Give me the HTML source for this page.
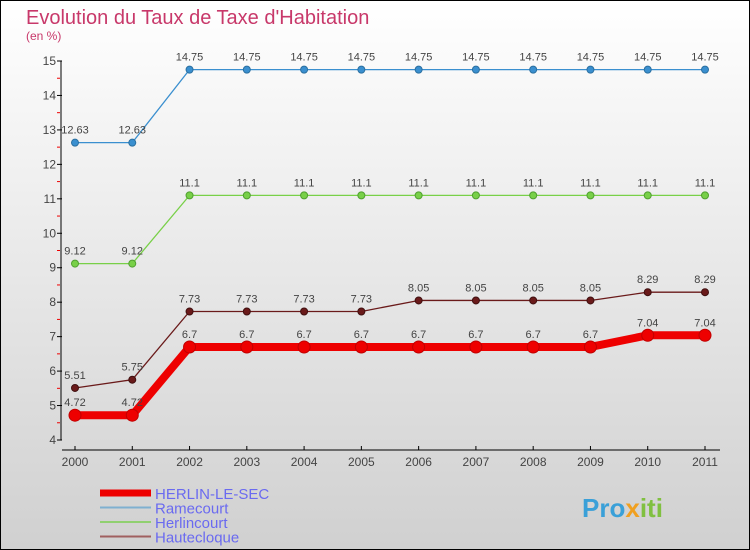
<!DOCTYPE html>
<html><head><meta charset="utf-8"><style>
body{margin:0}
svg{display:block;font-family:"Liberation Sans",sans-serif}
</style></head><body>
<svg width="750" height="550" xmlns="http://www.w3.org/2000/svg" id="chart">
<defs><linearGradient id="bg" x1="0" y1="0" x2="0" y2="1"><stop offset="0" stop-color="#ffffff"/><stop offset="1" stop-color="#d0d0d0"/></linearGradient></defs>
<rect x="0.5" y="0.5" width="749" height="549" fill="url(#bg)" stroke="#000"/>
<text x="26" y="24" font-size="20" fill="#c8386a">Evolution du Taux de Taxe d'Habitation</text>
<text x="26" y="40" font-size="12" fill="#c8386a">(en %)</text>
<g id="axes"></g><g id="series"></g><g id="legend"></g>
<text x="582" y="517" font-size="26" font-weight="bold" fill="#3aa0d8">Pro<tspan fill="#f0a020">x</tspan><tspan fill="#80c040">iti</tspan></text>
</svg>
<script>
const years=[2000,2001,2002,2003,2004,2005,2006,2007,2008,2009,2010,2011];
const herlin=[4.72,4.72,6.7,6.7,6.7,6.7,6.7,6.7,6.7,6.7,7.04,7.04];
const ramecourt=[12.63,12.63,14.75,14.75,14.75,14.75,14.75,14.75,14.75,14.75,14.75,14.75];
const herlincourt=[9.12,9.12,11.1,11.1,11.1,11.1,11.1,11.1,11.1,11.1,11.1,11.1];
const hautecloque=[5.51,5.75,7.73,7.73,7.73,7.73,8.05,8.05,8.05,8.05,8.29,8.29];
const yTicks=[4,5,6,7,8,9,10,11,12,13,14,15];
const NS="http://www.w3.org/2000/svg";
const X=i=>75+i*(630/11);
const Y=v=>440-(v-4)*(379/11);
function mk(t,a,p){const e=document.createElementNS(NS,t);for(const k in a)e.setAttribute(k,a[k]);p.appendChild(e);return e;}
const ax=document.getElementById('axes');
let l=mk('line',{x1:61,y1:Y(15),x2:61,y2:Y(4),stroke:'#000'},ax);


l=mk('line',{x1:62,y1:450,x2:720,y2:450,stroke:'#000'},ax);


yTicks.forEach(v=>{
 mk('line',{x1:57,y1:Y(v),x2:62,y2:Y(v),stroke:'#000'},ax);
 if(v<15)mk('line',{x1:57,y1:Y(v+0.5),x2:60,y2:Y(v+0.5),stroke:'#e00'},ax);
 const t=mk('text',{x:56,y:Y(v)+4,'font-size':12,fill:'#444','text-anchor':'end'},ax);t.textContent=v;
 
 
});
years.forEach((y,i)=>{
 mk('line',{x1:X(i),y1:446,x2:X(i),y2:450,stroke:'#000'},ax);
 const t=mk('text',{x:X(i),y:466,'font-size':12,fill:'#444','text-anchor':'middle'},ax);t.textContent=y;
 
 
});
const sg=document.getElementById('series');
function series(d,color,w,r,name,dark){
 const g=mk('g',{},sg);
 
 
 mk('polyline',{points:d.map((v,i)=>X(i)+','+Y(v)).join(' '),fill:'none',stroke:color,'stroke-width':w,'stroke-linejoin':'round'},g);
 d.forEach((v,i)=>{
  const c=mk('circle',{cx:X(i),cy:Y(v),r:r,fill:color,stroke:dark,'stroke-width':1},g);
  
  
  const t=mk('text',{x:X(i),y:Y(v)-9,'font-size':11,fill:'#444','text-anchor':'middle'},g);t.textContent=v;
  
  
 });
}
series(ramecourt,'#3a8fcf',1.3,3.5,'ramecourt','#2a6fa0');
series(herlincourt,'#78d048',1.3,3.5,'herlincourt','#50a030');
series(hautecloque,'#6a1a1a',1.3,3.5,'hautecloque','#401010');
series(herlin,'#ee0000',8,6,'herlin-le-sec','#c00000');
const lg=document.getElementById('legend');
const lgItems=[['HERLIN-LE-SEC','#ee0000',7],['Ramecourt','#7fb0d0',2],['Herlincourt','#90d070',2],['Hautecloque','#a06060',2]];
lgItems.forEach((it,i)=>{
 const y=493+i*14.5;
 const g=mk('g',{},lg);
 
 
 mk('line',{x1:100,y1:y,x2:151,y2:y,stroke:it[1],'stroke-width':it[2]},g);
 const t=mk('text',{x:155,y:y+6,'font-size':15,fill:'#6a6af0'},g);t.textContent=it[0];
});
</script>
</body></html>
